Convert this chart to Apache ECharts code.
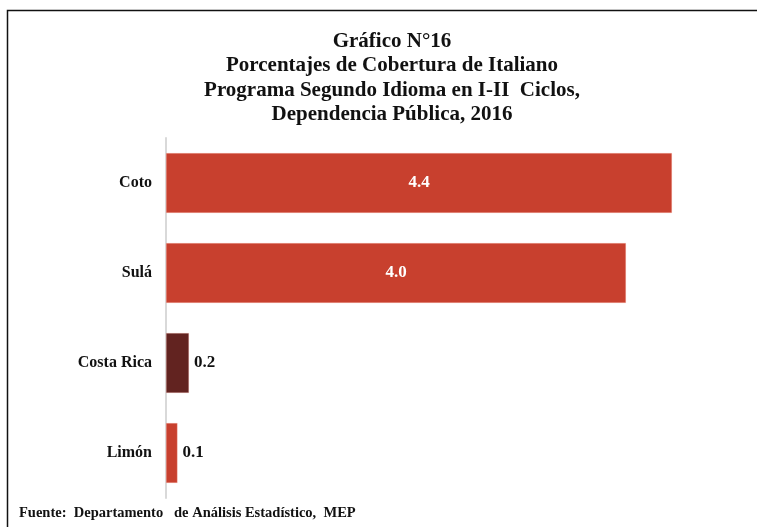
<!DOCTYPE html>
<html>
<head>
<meta charset="utf-8">
<script src="https://cdn.jsdelivr.net/npm/echarts@6/dist/echarts.min.js"></script>
<style>
html,body{margin:0;padding:0;background:#fff;}
#chart{width:757px;height:527px;}
</style>
</head>
<body>
<div id="chart"></div>
<script>
var categories = ['Coto', 'Sulá', 'Costa Rica', 'Limón'];
var values = [4.4, 4.0, 0.2, 0.1];
var highlight = 'Costa Rica';
var titleLines = ['Gráfico N°16', 'Porcentajes de Cobertura de Italiano', 'Programa Segundo Idioma en I-II  Ciclos,', 'Dependencia Pública, 2016'];
var sourceText = 'Fuente:  Departamento   de Análisis Estadístico,  MEP';

var FONT = '"Liberation Serif", "Times New Roman", serif';
var chart = echarts.init(document.getElementById('chart'), null, {renderer: 'canvas'});

var data = values.map(function (v, i) {
  var inside = v >= 1;
  return {
    value: v,
    itemStyle: { color: categories[i] === highlight ? '#622320' : '#C8402E' },
    label: {
      position: inside ? 'inside' : 'right',
      color: inside ? '#ffffff' : '#111111',
      distance: 5
    }
  };
});

chart.setOption({
  animation: false,
  backgroundColor: '#ffffff',
  title: {
    text: titleLines.join('\n'),
    left: 387,
    textAlign: 'center',
    top: 24,
    textStyle: {
      fontFamily: FONT,
      fontWeight: 'bold',
      fontSize: 21,
      lineHeight: 24.5,
      color: '#111111'
    }
  },
  grid: { left: 166, top: 138, width: 575, height: 360, containLabel: false },
  xAxis: {
    type: 'value',
    min: 0,
    max: 5,
    show: false
  },
  yAxis: {
    type: 'category',
    data: categories,
    inverse: true,
    axisLine: { show: true, lineStyle: { color: '#D9D9D9', width: 2 } },
    axisTick: { show: false },
    axisLabel: {
      margin: 14,
      fontFamily: FONT,
      fontWeight: 'bold',
      fontSize: 16,
      color: '#111111'
    },
    splitLine: { show: false }
  },
  series: [{
    type: 'bar',
    data: data,
    barCategoryGap: '33.3%',
    itemStyle: { borderColor: 'rgba(255,190,180,0.6)', borderWidth: 0.5 },
    label: {
      show: true,
      fontFamily: FONT,
      fontWeight: 'bold',
      fontSize: 17,
      formatter: function (p) { return p.value.toFixed(1); }
    }
  }],
  graphic: [
    {
      type: 'rect',
      shape: { x: 7.5, y: 10.5, width: 800, height: 600 },
      style: { fill: 'none', stroke: '#111111', lineWidth: 1.5 },
      silent: true
    },
    {
      type: 'text',
      left: 19,
      top: 506,
      style: {
        text: sourceText,
        fontFamily: FONT,
        fontWeight: 'bold',
        fontSize: 14.5,
        fill: '#111111'
      }
    }
  ]
});
</script>
</body>
</html>
